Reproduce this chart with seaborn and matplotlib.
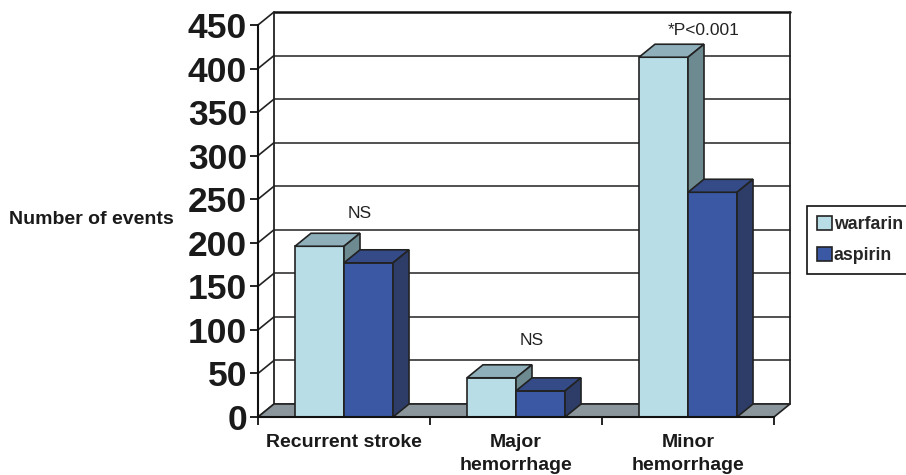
import matplotlib
matplotlib.use("Agg")
import matplotlib.pyplot as plt
import seaborn as sns
import pandas as pd
from matplotlib.patches import Polygon, Patch
from matplotlib.lines import Line2D

# Event counts per outcome and treatment arm
categories = ["Recurrent stroke", "Major\nhemorrhage", "Minor\nhemorrhage"]
drugs = ["warfarin", "aspirin"]
warfarin = [196, 45, 413]
aspirin = [177, 30, 258]
y_ticks = [0, 50, 100, 150, 200, 250, 300, 350, 400, 450]
sig_labels = ["NS", "NS", "*P<0.001"]
sig_label_y = [234, 88, 444]

df = pd.DataFrame({
    "category": categories * 2,
    "drug": [drugs[0]] * 3 + [drugs[1]] * 3,
    "events": warfarin + aspirin,
})

front_colors = ["#b8dde6", "#3a58a4"]
top_colors = ["#8fb0bb", "#344b88"]
side_colors = ["#6d8a90", "#2e3d68"]
edge = "#222222"

sns.set_style("white")
plt.rcParams["font.family"] = ["Liberation Sans", "DejaVu Sans"]

W, H, DPI = 906, 475, 100
fig = plt.figure(figsize=(W / DPI, H / DPI), dpi=DPI)
ax_left, ax_bottom, ax_w, ax_h = 258, 58, 516, 392   # front plane in pixels
ax = fig.add_axes([ax_left / W, ax_bottom / H, ax_w / W, ax_h / H])

ymax = y_ticks[-1]
# depth of the 3-D box, converted from pixels to data units
depth_px = (16, 13)
dx = depth_px[0] / (ax_w / 3)
dy = depth_px[1] / (ax_h / ymax)

sns.barplot(data=df, x="category", y="events", hue="drug", order=categories,
            hue_order=drugs, palette=front_colors, saturation=1, width=0.57,
            gap=0, edgecolor=edge, linewidth=1.2, legend=False, ax=ax)

ax.set_xlim(-0.5, 2.5)
ax.set_ylim(0, ymax)

# back wall grid, side-wall diagonals and wall edges
for v in y_ticks:
    lw = 1.8 if v == ymax else 1.2
    col = "#111111" if v == ymax else "#333333"
    ax.add_line(Line2D([-0.5 + dx, 2.5 + dx], [v + dy, v + dy], color=col,
                       lw=lw, zorder=1, clip_on=False))
    ax.add_line(Line2D([-0.5, -0.5 + dx], [v, v + dy], color="#222222",
                       lw=1.2, zorder=1, clip_on=False))
for xe in (-0.5 + dx, 2.5 + dx):
    ax.add_line(Line2D([xe, xe], [dy, ymax + dy], color="#222222", lw=1.3,
                       zorder=1, clip_on=False))

# floor
ax.add_patch(Polygon([(-0.5, 0), (2.5, 0), (2.5 + dx, dy), (-0.5 + dx, dy)],
                     closed=True, facecolor="#8a969c", edgecolor=edge,
                     lw=1.2, zorder=1.5, clip_on=False))

# extrude each bar: top face and right side face
for j, cont in enumerate(ax.containers):
    base_z = 3 + j * 0.5
    for bar in cont:
        bar.set_zorder(base_z)
        x0, w, h = bar.get_x(), bar.get_width(), bar.get_height()
        x1 = x0 + w
        top = Polygon([(x0, h), (x1, h), (x1 + dx, h + dy), (x0 + dx, h + dy)],
                      closed=True, facecolor=top_colors[j], edgecolor=edge,
                      lw=1.2, zorder=base_z + 0.1, clip_on=False)
        side = Polygon([(x1, 0), (x1, h), (x1 + dx, h + dy), (x1 + dx, dy)],
                       closed=True, facecolor=side_colors[j], edgecolor=edge,
                       lw=1.2, zorder=base_z + 0.1, clip_on=False)
        ax.add_patch(top)
        ax.add_patch(side)

# significance notes
for i, (txt, yv) in enumerate(zip(sig_labels, sig_label_y)):
    ax.text(i + dx, yv, txt, ha="center", va="center", fontsize=12.5,
            color="#222222", zorder=6, clip_on=False)

# axes styling
for s in ("top", "right"):
    ax.spines[s].set_visible(False)
for s in ("left", "bottom"):
    ax.spines[s].set_color("#111111")
    ax.spines[s].set_linewidth(1.5)
    ax.spines[s].set_zorder(5)

ax.set_yticks(y_ticks)
ax.set_yticklabels([str(v) for v in y_ticks], fontsize=25.5, fontweight="bold",
                   color="#1a1a1a")
ax.tick_params(axis="y", direction="out", length=6, width=1.3, pad=2,
               left=True, color="#111111")
ax.set_xticks(range(len(categories)))
ax.set_xticklabels(categories, fontsize=14, fontweight="bold",
                   color="#1a1a1a", linespacing=1.45)
ax.tick_params(axis="x", which="major", length=0, pad=12)
ax.set_xticks([-0.5, 0.5, 1.5, 2.5], minor=True)
ax.tick_params(axis="x", which="minor", direction="out", length=6, width=1.3,
               bottom=True, color="#111111")
ax.set_xlabel("")
ax.set_ylabel("")

fig.text(91 / W, 1 - 219 / H, "Number of events", ha="center", va="center",
         fontsize=14, fontweight="bold", color="#1a1a1a")

handles = [Patch(facecolor=front_colors[k], edgecolor=edge, lw=1.2)
           for k in range(len(drugs))]
leg = ax.legend(handles, drugs, loc="upper left",
                bbox_to_anchor=(807 / W, 1 - 206 / H),
                bbox_transform=fig.transFigure, frameon=True, fancybox=False,
                edgecolor="#111111", framealpha=1, handlelength=0.85,
                handleheight=0.85, handletextpad=0.1, labelspacing=0.8,
                borderpad=0.55, borderaxespad=0,
                prop={"weight": "bold", "size": 12.8})
leg.get_frame().set_linewidth(1.2)

fig.savefig("out.png", dpi=DPI)
